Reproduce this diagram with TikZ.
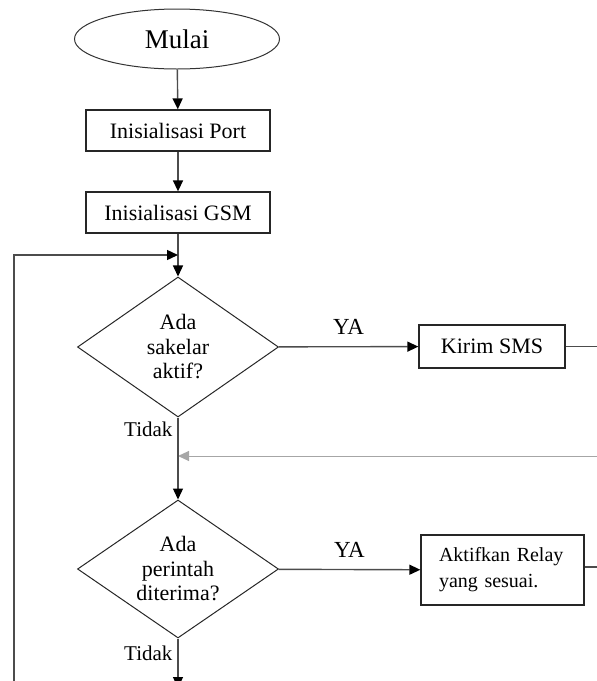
\documentclass[tikz,border=0pt]{standalone}
\usepackage{fontspec}
\setmainfont{Liberation Serif}
\usetikzlibrary{shapes.geometric,arrows.meta}

\begin{document}
\begin{tikzpicture}[x=1pt,y=-1pt,
    mulaibox/.style={draw=black!80,line width=1pt,ellipse,minimum width=205pt,minimum height=60pt,inner sep=0pt,font=\fontsize{27}{30}\selectfont},
    proses/.style={draw=black!85,line width=1.3pt,rectangle,minimum width=184pt,minimum height=41pt,inner sep=0pt,font=\fontsize{22}{24}\selectfont},
    keputusan/.style={draw=black!85,line width=1pt,diamond,aspect=1.44,minimum width=201pt,minimum height=140pt,inner sep=0pt,align=center,font=\fontsize{22}{24.5}\selectfont},
    panah/.style={-{Triangle[length=11pt,width=10pt,color=black]},line width=1.4pt,draw=black!70},
    garis/.style={line width=1.4pt,draw=black!70},
    ket/.style={font=\fontsize{21}{24}\selectfont}]

    \useasboundingbox (0,0) rectangle (597,681);
    \clip (0,0) rectangle (597,681);

    \node[mulaibox] (mulai) at (177,39) {Mulai};
    \node[proses] (port) at (178,130.5) {Inisialisasi Port};
    \node[proses] (gsm) at (178,212.5) {Inisialisasi GSM};

    \draw[panah] (mulai) -- (port);
    \draw[panah] (port) -- (gsm);

    %%%%%%%%%%%%%%%%%%%%%%%%%%%%%%%%%%%%

    \node[keputusan] (sakelar) at (178,347) {Ada\\ sakelar\\ aktif?};
    \node[proses,minimum width=146pt,minimum height=43pt] (sms) at (492,346.5) {Kirim SMS};

    \coordinate (loopbawah) at (14,690);
    \coordinate (loopatas) at (178,255);
    \coordinate (smskanan) at (600,346.5);
    \coordinate (balik) at (178,456);
    \coordinate (balikkanan) at (600,456);

    \draw[panah] (gsm) -- (sakelar);
    \draw[panah] (loopbawah) |- (loopatas);
    \draw[panah] (sakelar) -- node[ket,above=8pt,font=\fontsize{23}{24}\selectfont] {YA} (sms);
    \draw[garis] (sms) -- (smskanan);
    \node[ket,anchor=east] (tidak1) at (176,429) {Tidak};
    \draw[-{Triangle[length=11pt,width=10pt]},line width=1pt,draw=black!35] (balikkanan) -- (balik);

    %%%%%%%%%%%%%%%%%%%%%%%%%%%%%%%%%%%%

    \node[keputusan,minimum height=138pt] (perintah) at (178,569) {Ada\\ perintah\\ diterima?};
    \node[proses,minimum width=163pt,minimum height=70pt,text width=127pt,align=left,
      font=\fontsize{20}{26}\selectfont] (relay) at (502.5,570) {Aktifkan Relay\\ yang sesuai.};

    \coordinate (relaykanan) at (600,567);
    \coordinate (bawah) at (178,688);

    \draw[panah] (sakelar) -- (perintah);
    \draw[panah] (perintah) -- node[ket,above=8pt,font=\fontsize{23}{24}\selectfont] {YA} (relay);
    \draw[garis] (relay.east |- relaykanan) -- (relaykanan);
    \node[ket,anchor=east] (tidak2) at (176,653) {Tidak};
    \draw[panah] (perintah) -- (bawah);

\end{tikzpicture}
\end{document}
